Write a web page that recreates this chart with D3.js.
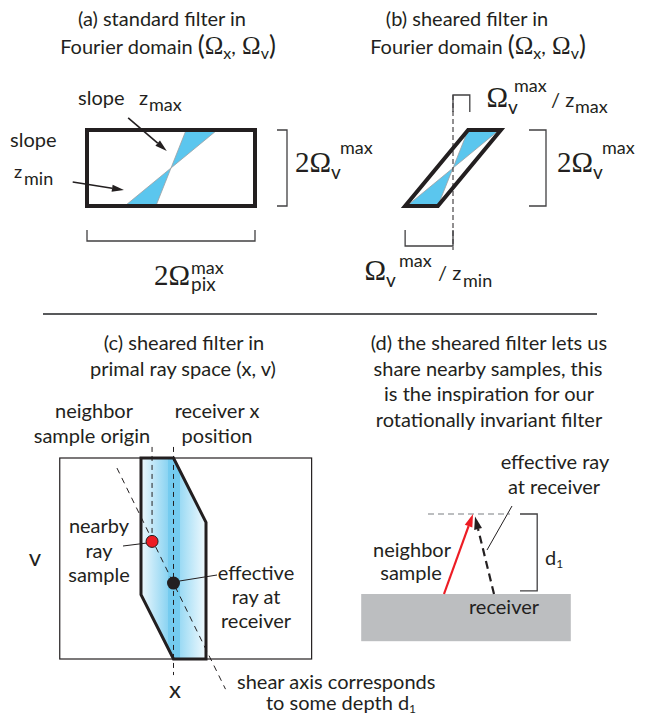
<!DOCTYPE html>
<html>
<head>
<meta charset="utf-8">
<script src="https://cdn.jsdelivr.net/npm/d3@7"></script>
<style>
  body { margin: 0; background: #fff; }
</style>
</head>
<body>
<div id="fig"></div>
<script>
const W = 652, H = 713;
const SANS = "Lato, 'Open Sans', sans-serif";
const SERIF = "'Liberation Serif', 'DejaVu Serif', serif";
const INK = "#231f20";
const BLUE = "#5bc6ee";

// (a)/(b) Fourier domain, units of Omega_v^max
const omegaDomain = [-1, 1];
const bowtieSlopes = [0.18, 0.55];   // Omega_x where the z_max / z_min lines meet Omega_v = 1
const shearedBox = [[0.18, 1], [0.57, 1], [-0.18, -1], [-0.57, -1]];
const slopeArrows = [[[-0.51, 1.32], [-0.05, 0.45]], [[-1.17, -0.37], [-0.56, -0.58]]];

// (c) primal ray space (x, v), receiver at x = 0
const rayBox = [[-3.5, 1], [4.25, -1]];
const shearedFilter = [[-1, 1], [0, 1], [1, 0.36], [1, -1], [0, -1], [-1, -0.36]];
const nearbySample = [-0.66, 0.17];
const effectiveSample = [0, -0.245];
const shearAxis = [[-1.74, 0.9], [1.6, -1.3]];
const neighborOriginLine = [[-0.66, 1.11], [-0.66, 0.2]];
const receiverLine = [[0, 1.11], [0, -1.16]];

// (d) scene, units of depth d1
const ground = [[-1.41, 0], [1.21, -0.59]];
const neighborRay = [[-0.375, 0], [-0.0125, 1]];
const effectiveRay = [[0.25, 0], [0.0125, 0.97]];
const depthGuide = [[-0.575, 1], [0.45, 1]];
const depthBracket = [[0.575, 1], [0.79, 1], [0.79, 0.04], [0.575, 0.04]];

const xa = d3.scaleLinear().domain(omegaDomain).range([87, 255]);
const ya = d3.scaleLinear().domain(omegaDomain).range([206, 130]);
const xb = d3.scaleLinear().domain(omegaDomain).range([369, 537]);
const xc = d3.scaleLinear().domain([-1, 1]).range([141, 206]);
const yc = d3.scaleLinear().domain([-1, 1]).range([659, 458]);
const xd = d3.scaleLinear().domain([0, 1]).range([474, 554]);
const yd = d3.scaleLinear().domain([0, 1]).range([594, 514]);

const svg = d3.select("#fig").append("svg")
  .attr("width", W)
  .attr("height", H);

const defs = svg.append("defs");
const line = d3.line();

function label(x, y, str, o = {}) {
  return svg.append("text")
    .attr("x", x).attr("y", y)
    .attr("font-family", o.serif ? SERIF : SANS)
    .attr("font-size", o.size || 20)
    .attr("text-anchor", o.anchor || "start")
    .attr("fill", INK)
    .text(str);
}

// text made of runs; each run: [string, font, size, baseline offset]
function runs(x, y, parts, anchor) {
  const t = svg.append("text")
    .attr("x", x).attr("y", y)
    .attr("text-anchor", anchor || "start")
    .attr("fill", INK);
  let cur = 0;
  parts.forEach(([s, f, sz, off]) => {
    t.append("tspan").attr("dy", off - cur)
      .attr("font-family", f).attr("font-size", sz).text(s);
    cur = off;
  });
  return t;
}

function omegaTitle(cx, y) {
  runs(cx, y, [
    ["Fourier domain ", SANS, 20, 0], ["(", SANS, 26, 1], ["Ω", SERIF, 25, 0],
    ["x", SANS, 16, 5], [",", SANS, 20, 0], [" Ω", SERIF, 25, 0],
    ["v", SANS, 16, 5], [")", SANS, 26, 1]
  ], "middle");
}

function arrow(p1, p2, color, width, dash, len = 11, wid = 7) {
  const a = Math.atan2(p2[1] - p1[1], p2[0] - p1[0]);
  const bx = p2[0] - len * Math.cos(a), by = p2[1] - len * Math.sin(a);
  svg.append("path")
    .attr("d", line([p1, [bx, by]]))
    .attr("stroke", color).attr("stroke-width", width)
    .attr("stroke-dasharray", dash || null)
    .attr("fill", "none");
  const px = -Math.sin(a) * wid / 2, py = Math.cos(a) * wid / 2;
  svg.append("path")
    .attr("d", `M${p2[0]},${p2[1]}L${bx + px},${by + py}L${bx - px},${by - py}Z`)
    .attr("fill", color);
}

function bracket(pts) {
  svg.append("path").attr("d", line(pts))
    .attr("fill", "none").attr("stroke", "#414042").attr("stroke-width", 1.3);
}

function bowtie(x, y) {
  const [s0, s1] = bowtieSlopes;
  const tris = [[[0, 0], [s0, 1], [s1, 1]], [[0, 0], [-s0, -1], [-s1, -1]]];
  svg.append("g").selectAll("path").data(tris).join("path")
    .attr("d", d => line(d.map(p => [x(p[0]), y(p[1])])) + "Z")
    .attr("fill", BLUE).attr("stroke", "#9d9fa2").attr("stroke-width", 0.8);
}

// ---------- (a) standard filter ----------
label(162, 26, "(a) standard filter in", { anchor: "middle" });
omegaTitle(168, 54);

bowtie(xa, ya);
svg.append("rect")
  .attr("x", xa(-1)).attr("y", ya(1))
  .attr("width", xa(1) - xa(-1)).attr("height", ya(-1) - ya(1))
  .attr("fill", "none").attr("stroke", INK).attr("stroke-width", 4);

slopeArrows.forEach(([p, q]) =>
  arrow([xa(p[0]), ya(p[1])], [xa(q[0]), ya(q[1])], INK, 1.6, null, 12, 7));

label(78, 105, "slope");
label(139, 105, "z");
label(149, 111, "max", { size: 18 });
label(10, 147, "slope");
label(14, 178, "z", { size: 18 });
label(24, 185, "min", { size: 18 });

bracket([[277, ya(1)], [287, ya(1)], [287, ya(-1)], [277, ya(-1)]]);
label(331, 172, "2Ω", { serif: true, size: 29, anchor: "end" });
label(331, 179, "v", { size: 19 });
label(340, 154, "max", { size: 18 });

bracket([[xa(-1), 230], [xa(-1), 241], [xa(1), 241], [xa(1), 230]]);
label(190, 285, "2Ω", { serif: true, size: 29, anchor: "end" });
label(191, 291, "pix", { size: 19 });
label(191, 274, "max", { size: 18 });

// ---------- (b) sheared filter ----------
label(467, 26, "(b) sheared filter in", { anchor: "middle" });
omegaTitle(478, 54);

bowtie(xb, ya);
svg.append("path")
  .attr("d", line(shearedBox.map(p => [xb(p[0]), ya(p[1])])) + "Z")
  .attr("fill", "none").attr("stroke", INK).attr("stroke-width", 4)
  .attr("stroke-linejoin", "miter");

svg.append("path")
  .attr("d", line([[xb(0), 95], [xb(0), 250]]))
  .attr("stroke", INK).attr("stroke-width", 1).attr("stroke-dasharray", "5,3");

bracket([[xb(0), 112], [xb(0), 95], [xb(0.2), 95], [xb(0.2), 112]]);
label(508, 107, "Ω", { serif: true, size: 29, anchor: "end" });
label(508, 114, "v", { size: 19 });
label(514, 92, "max", { size: 18 });
label(551, 107, "/ z");
label(575, 113, "max", { size: 18 });

bracket([[529, ya(1)], [546, ya(1)], [546, ya(-1)], [529, ya(-1)]]);
label(593, 172, "2Ω", { serif: true, size: 29, anchor: "end" });
label(593, 179, "v", { size: 19 });
label(602, 154, "max", { size: 18 });

bracket([[xb(-0.57), 230], [xb(-0.57), 246], [xb(0), 246], [xb(0), 230]]);
label(386, 280, "Ω", { serif: true, size: 29, anchor: "end" });
label(386, 287, "v", { size: 19 });
label(399, 267, "max", { size: 18 });
label(438, 280, "/ z");
label(463, 287, "min", { size: 18 });

// separator
svg.append("path").attr("d", line([[43, 314], [597, 314]]))
  .attr("stroke", "#58595b").attr("stroke-width", 2);

// ---------- (c) sheared filter in primal ray space ----------
label(184, 350, "(c) sheared filter in", { anchor: "middle" });
label(183, 376, "primal ray space (x, v)", { anchor: "middle" });
label(94, 418, "neighbor", { anchor: "middle" });
label(92, 443, "sample origin", { anchor: "middle" });
label(217, 418, "receiver x", { anchor: "middle" });
label(217, 443, "position", { anchor: "middle" });

const grad = defs.append("linearGradient").attr("id", "shearFill")
  .attr("gradientUnits", "userSpaceOnUse")
  .attr("x1", xc(-1)).attr("x2", xc(1)).attr("y1", 0).attr("y2", 0);
[[0, "#eef8fd"], [0.41, "#8cd4f2"], [0.41, "#74cbef"], [0.6, "#74cbef"],
 [0.6, "#9bdaf4"], [1, "#f1fafe"]].forEach(([o, c]) =>
  grad.append("stop").attr("offset", o).attr("stop-color", c));

svg.append("rect")
  .attr("x", xc(rayBox[0][0])).attr("y", yc(rayBox[0][1]))
  .attr("width", xc(rayBox[1][0]) - xc(rayBox[0][0]))
  .attr("height", yc(rayBox[1][1]) - yc(rayBox[0][1]))
  .attr("fill", "none").attr("stroke", INK).attr("stroke-width", 1.2);

svg.append("path")
  .attr("d", line(shearedFilter.map(p => [xc(p[0]), yc(p[1])])) + "Z")
  .attr("fill", "url(#shearFill)").attr("stroke", INK).attr("stroke-width", 3);

[[neighborOriginLine, "5,4"], [receiverLine, "5,4"], [shearAxis, "6,5"]].forEach(([pts, dash]) =>
  svg.append("path").attr("d", line(pts.map(p => [xc(p[0]), yc(p[1])])))
    .attr("fill", "none").attr("stroke", INK).attr("stroke-width", 1)
    .attr("stroke-dasharray", dash));

svg.append("path").attr("d", line([[123, 546], [xc(nearbySample[0]) - 5, 543]]))
  .attr("stroke", INK).attr("stroke-width", 1);
svg.append("path").attr("d", line([[xc(effectiveSample[0]) + 6, 581], [217, 575]]))
  .attr("stroke", INK).attr("stroke-width", 1);

svg.append("circle")
  .attr("cx", xc(nearbySample[0])).attr("cy", yc(nearbySample[1])).attr("r", 6)
  .attr("fill", "#ed1c24").attr("stroke", INK).attr("stroke-width", 1);
svg.append("circle")
  .attr("cx", xc(effectiveSample[0])).attr("cy", yc(effectiveSample[1])).attr("r", 6.5)
  .attr("fill", INK);

label(99, 533, "nearby", { anchor: "middle" });
label(99, 558, "ray", { anchor: "middle" });
label(99, 582, "sample", { anchor: "middle" });
label(256, 580, "effective", { anchor: "middle" });
label(256, 604, "ray at", { anchor: "middle" });
label(256, 628, "receiver", { anchor: "middle" });

label(35, 566, "v", { size: 24, anchor: "middle" });
label(175, 698, "x", { size: 24, anchor: "middle" });
label(237, 689, "shear axis corresponds");
runs(341, 710, [["to some depth d", SANS, 20, 0], ["1", SANS, 12, 3]], "middle");

// ---------- (d) sharing nearby samples ----------
label(489, 350, "(d) the sheared filter lets us", { anchor: "middle" });
label(488, 376, "share nearby samples, this", { anchor: "middle" });
label(489, 401, "is the inspiration for our", { anchor: "middle" });
label(489, 427, "rotationally invariant filter", { anchor: "middle" });

svg.append("rect")
  .attr("x", xd(ground[0][0])).attr("y", yd(ground[0][1]))
  .attr("width", xd(ground[1][0]) - xd(ground[0][0]))
  .attr("height", yd(ground[1][1]) - yd(ground[0][1]))
  .attr("fill", "#bcbec0");

svg.append("path").attr("d", line(depthGuide.map(p => [xd(p[0]), yd(p[1])])))
  .attr("stroke", "#a7a9ac").attr("stroke-width", 1.3).attr("stroke-dasharray", "6,4");
bracket(depthBracket.map(p => [xd(p[0]), yd(p[1])]));

arrow([xd(neighborRay[0][0]), yd(neighborRay[0][1])], [xd(neighborRay[1][0]), yd(neighborRay[1][1])],
  "#ed1c24", 2.2, null, 13, 8);
arrow([xd(effectiveRay[0][0]), yd(effectiveRay[0][1])], [xd(effectiveRay[1][0]), yd(effectiveRay[1][1])],
  INK, 2.2, "8,5", 13, 8);

svg.append("path").attr("d", line([[512, 506], [487, 550]]))
  .attr("stroke", INK).attr("stroke-width", 1);

label(555, 469, "effective ray", { anchor: "middle" });
label(554, 494, "at receiver", { anchor: "middle" });
label(412, 557, "neighbor", { anchor: "middle" });
label(411, 580, "sample", { anchor: "middle" });
label(469, 614, "receiver");
runs(545, 565, [["d", SANS, 20, 0], ["1", SANS, 12, 3]]);
</script>
</body>
</html>
